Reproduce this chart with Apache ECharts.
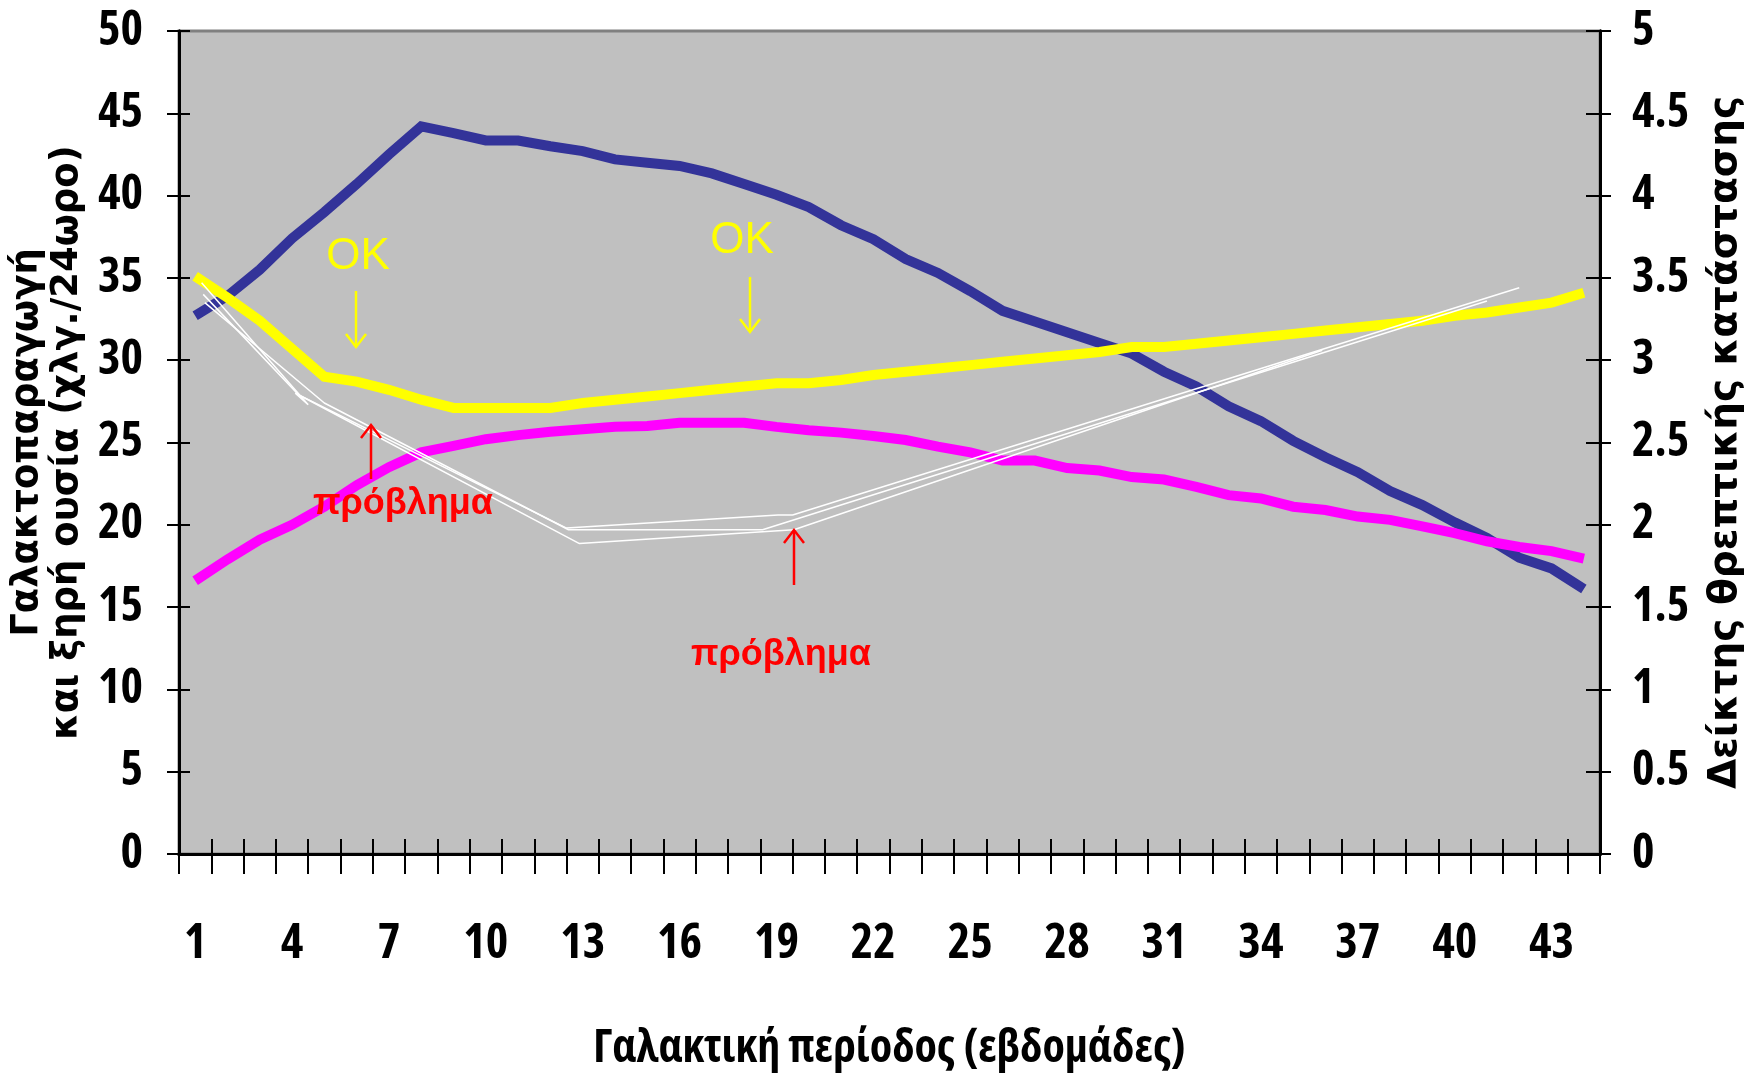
<!DOCTYPE html>
<html><head><meta charset="utf-8">
<script src="https://cdn.jsdelivr.net/npm/echarts@6/dist/echarts.min.js"></script>
<style>html,body{margin:0;padding:0;background:#fff}#c{width:1750px;height:1081px}</style>
</head><body><div id="c"></div>
<script>
// Week categories (x axis)
const weeks = ['1','2','3','4','5','6','7','8','9','10','11','12','13','14','15','16','17','18','19','20','21','22',
  '23','24','25','26','27','28','29','30','31','32','33','34','35','36','37','38','39','40','41','42','43','44'];
// Milk yield (kg/day), left axis
const milk = [32.7,33.9,35.5,37.4,39.0,40.7,42.5,44.2,43.8,43.35,43.35,43.0,42.7,42.2,42.0,41.8,41.35,40.7,40.05,39.3,38.2,37.35,
  36.15,35.3,34.2,33.0,32.35,31.7,31.05,30.4,29.3,28.4,27.2,26.3,25.1,24.1,23.2,22.05,21.2,20.15,19.2,18.0,17.35,16.1];
// Dry matter intake (kg/day), left axis
const dmi = [16.6,17.9,19.1,20.0,21.1,22.4,23.5,24.4,24.8,25.2,25.45,25.65,25.8,25.95,26.0,26.2,26.2,26.2,25.95,25.75,25.6,25.4,
  25.15,24.75,24.4,23.9,23.9,23.45,23.3,22.9,22.75,22.3,21.8,21.6,21.1,20.9,20.5,20.3,19.9,19.5,19.0,18.65,18.4,17.95];
// Body condition score, right axis
const bcs = [3.51,3.38,3.24,3.07,2.90,2.87,2.82,2.76,2.71,2.71,2.71,2.71,2.74,2.76,2.78,2.80,2.82,2.84,2.86,2.86,2.88,2.91,
  2.93,2.95,2.97,2.99,3.01,3.03,3.05,3.08,3.08,3.10,3.12,3.14,3.16,3.18,3.20,3.22,3.24,3.27,3.29,3.32,3.35,3.41];
// Hand-drawn white guide lines: [week, score] on right axis
const guide1 = [[1.2,3.47],[4.5,2.73],[4.1,2.80],[12.5,1.98],[19.05,2.06],[19.5,2.06],[42.0,3.44]];
const guide2 = [[1.3,3.35],[5.0,2.74],[12.56,1.97],[18.57,1.97],[41.0,3.36]];
const guide3 = [[1.25,3.40],[4.2,2.79],[12.9,1.886],[19.54,1.97],[35.9,3.06]];
// Axis ranges
const leftMin = 0, leftMax = 50, leftStep = 5;
const rightMin = 0, rightMax = 5, rightStep = 0.5;

const numFont = '"Open Sans","Roboto Condensed",sans-serif';
const titleFont = '"DejaVu Sans",Verdana,sans-serif';
const numLabel = {fontSize: 48, fontStyle: 'condensed', fontWeight: 'bold', fontFamily: numFont, color: '#000'};

const chart = echarts.init(document.getElementById('c'), null, {renderer: 'canvas'});
const blackLine = {color: '#000', width: 3};
const tickLine = {color: '#000', width: 2};
const option = {
  animation: false,
  backgroundColor: '#fff',
  grid: {left: 179, right: 150, top: 31, bottom: 227, show: true, backgroundColor: '#C0C0C0',
    borderColor: '#808080', borderWidth: 3, containLabel: false, outerBoundsMode: 'none'},
  xAxis: [
    {type: 'category', data: weeks, position: 'bottom', boundaryGap: true,
      axisLine: {lineStyle: blackLine}, axisTick: {show: true, interval: 0, length: 20, lineStyle: tickLine},
      axisLabel: Object.assign({interval: 2, margin: 66}, numLabel), splitLine: {show: false},
      name: 'Γαλακτική περίοδος (εβδομάδες)', nameLocation: 'middle', nameGap: 172,
      nameTextStyle: {fontSize: 46, fontStyle: 'condensed', fontWeight: 'bold', fontFamily: numFont, color: '#000'}},
    {type: 'category', data: weeks, position: 'bottom', boundaryGap: true,
      axisLine: {show: true, lineStyle: blackLine}, axisTick: {show: true, inside: true, interval: 0, length: 15, lineStyle: tickLine},
      axisLabel: {show: false}, splitLine: {show: false}},
    {type: 'value', min: 0.5, max: 44.5, show: false, splitLine: {show: false}}
  ],
  yAxis: [
    {type: 'value', position: 'left', min: leftMin, max: leftMax, interval: leftStep,
      axisLine: {show: true, lineStyle: blackLine}, axisTick: {show: true, length: 12, lineStyle: tickLine},
      axisLabel: Object.assign({margin: 36}, numLabel), splitLine: {show: false},
      name: 'Γαλακτοπαραγωγή\nκαι ξηρή ουσία (χλγ./24ωρο)', nameLocation: 'middle', nameRotate: 90, nameGap: 80,
      nameTextStyle: {fontSize: 37, fontWeight: 'bold', fontFamily: titleFont, color: '#000', lineHeight: 40}},
    {type: 'value', position: 'left', min: leftMin, max: leftMax, interval: leftStep,
      axisLine: {show: true, lineStyle: blackLine}, axisTick: {show: true, inside: true, length: 11, lineStyle: tickLine},
      axisLabel: {show: false}, splitLine: {show: false}},
    {type: 'value', position: 'right', min: rightMin, max: rightMax, interval: rightStep,
      axisLine: {show: true, lineStyle: blackLine}, axisTick: {show: true, length: 11, lineStyle: tickLine},
      axisLabel: Object.assign({margin: 32}, numLabel), splitLine: {show: false},
      name: 'Δείκτης θρεπτικής κατάστασης', nameLocation: 'middle', nameRotate: 90, nameGap: 106,
      nameTextStyle: {fontSize: 39, fontWeight: 'bold', fontFamily: titleFont, color: '#000'}},
    {type: 'value', position: 'right', min: rightMin, max: rightMax, interval: rightStep,
      axisLine: {show: true, lineStyle: blackLine}, axisTick: {show: true, inside: true, length: 14, lineStyle: tickLine},
      axisLabel: {show: false}, splitLine: {show: false}}
  ],
  series: [
    {name: 'milk', type: 'line', xAxisIndex: 0, yAxisIndex: 0, data: milk, symbol: 'none',
      lineStyle: {color: '#333399', width: 10, cap: 'butt', join: 'miter'}, z: 2},
    {name: 'dmi', type: 'line', xAxisIndex: 0, yAxisIndex: 0, data: dmi, symbol: 'none',
      lineStyle: {color: '#FF00FF', width: 10, cap: 'butt', join: 'miter'}, z: 3},
    {name: 'bcs', type: 'line', xAxisIndex: 0, yAxisIndex: 2, data: bcs, symbol: 'none',
      lineStyle: {color: '#FFFF00', width: 10, cap: 'butt', join: 'miter'}, z: 4},
    {type: 'line', xAxisIndex: 2, yAxisIndex: 2, data: guide1, symbol: 'none',
      lineStyle: {color: '#fff', width: 1.5}, z: 5},
    {type: 'line', xAxisIndex: 2, yAxisIndex: 2, data: guide2, symbol: 'none',
      lineStyle: {color: '#fff', width: 1.5}, z: 5},
    {type: 'line', xAxisIndex: 2, yAxisIndex: 2, data: guide3, symbol: 'none',
      lineStyle: {color: '#fff', width: 1.5}, z: 5}
  ],
  graphic: [
    {type: 'text', x: 358, y: 257, z: 100, style: {text: 'OK', fill: '#FFFF00', font: '44px "Liberation Sans", Arial, sans-serif',
      align: 'center', verticalAlign: 'middle', textAlign: 'center', textVerticalAlign: 'middle'}},
    {type: 'text', x: 742, y: 241, z: 100, style: {text: 'OK', fill: '#FFFF00', font: '44px "Liberation Sans", Arial, sans-serif',
      align: 'center', verticalAlign: 'middle', textAlign: 'center', textVerticalAlign: 'middle'}},
    {type: 'text', x: 403, y: 504, z: 100, style: {text: 'πρόβλημα', fill: '#FF0000', font: 'bold 36px "Liberation Sans", Arial, sans-serif',
      align: 'center', verticalAlign: 'middle', textAlign: 'center', textVerticalAlign: 'middle'}},
    {type: 'text', x: 781, y: 655, z: 100, style: {text: 'πρόβλημα', fill: '#FF0000', font: 'bold 36px "Liberation Sans", Arial, sans-serif',
      align: 'center', verticalAlign: 'middle', textAlign: 'center', textVerticalAlign: 'middle'}},
    {type: 'polyline', z: 100, shape: {points: [[356, 291], [356, 346]]}, style: {stroke: '#FFFF00', lineWidth: 2.5, fill: null}},
    {type: 'polyline', z: 100, shape: {points: [[346, 334], [356, 347], [366, 334]]}, style: {stroke: '#FFFF00', lineWidth: 2.5, fill: null}},
    {type: 'polyline', z: 100, shape: {points: [[750, 277], [750, 331]]}, style: {stroke: '#FFFF00', lineWidth: 2.5, fill: null}},
    {type: 'polyline', z: 100, shape: {points: [[740, 319], [750, 332], [760, 319]]}, style: {stroke: '#FFFF00', lineWidth: 2.5, fill: null}},
    {type: 'polyline', z: 100, shape: {points: [[371, 426], [371, 479]]}, style: {stroke: '#FF0000', lineWidth: 2.5, fill: null}},
    {type: 'polyline', z: 100, shape: {points: [[361, 438], [371, 425], [381, 438]]}, style: {stroke: '#FF0000', lineWidth: 2.5, fill: null}},
    {type: 'polyline', z: 100, shape: {points: [[794, 531], [794, 585]]}, style: {stroke: '#FF0000', lineWidth: 2.5, fill: null}},
    {type: 'polyline', z: 100, shape: {points: [[784, 543], [794, 530], [804, 543]]}, style: {stroke: '#FF0000', lineWidth: 2.5, fill: null}}
  ]
};
chart.setOption(option);
</script>
</body></html>
